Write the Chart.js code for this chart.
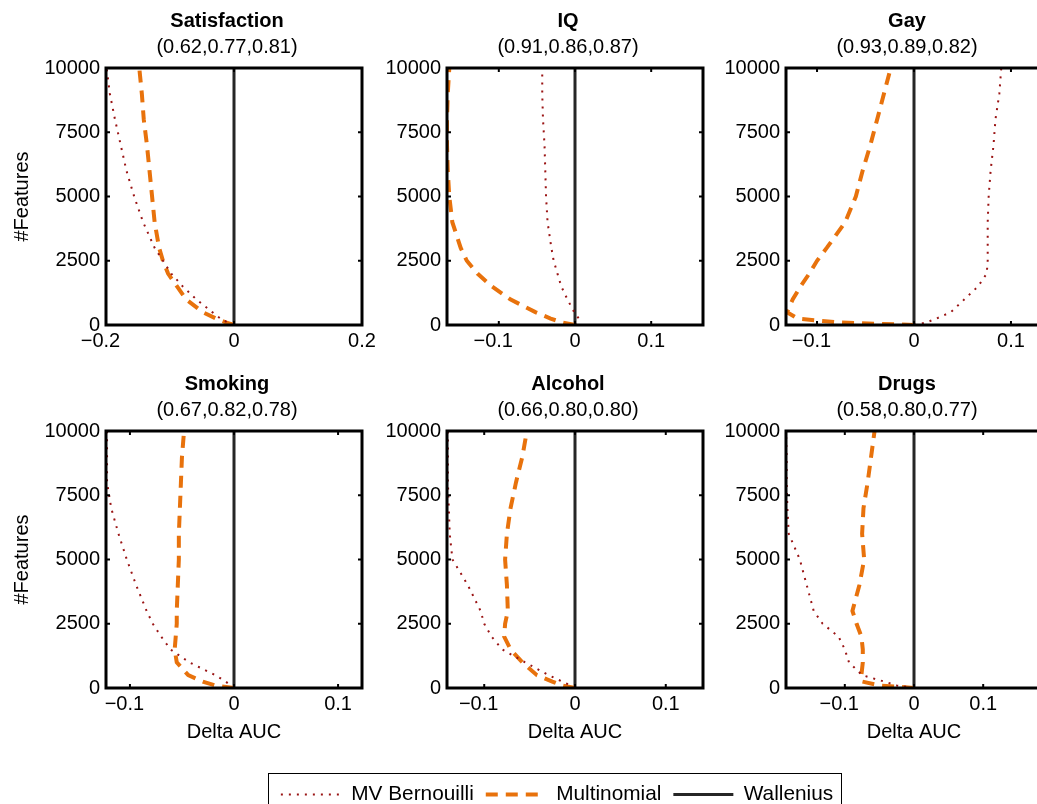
<!DOCTYPE html>
<html>
<head>
<meta charset="utf-8">
<script src="https://cdn.jsdelivr.net/npm/chart.js@4.4.1/dist/chart.umd.min.js"></script>
<style>
  html, body { margin:0; padding:0; background:#fff; width:1037px; height:804px; overflow:hidden; position:relative; }
  canvas.panel { position:absolute; }
  #legendBox { position:absolute; left:268px; top:773px; width:574px; height:40px; border:1px solid #000; box-sizing:border-box; background:#fff; }
  #legend { position:absolute; left:237px; top:772px; }
</style>
</head>
<body>
<div id="legendBox"></div>
<canvas id="legend" width="640" height="120"></canvas>
<script>
// ---------- data ----------
const features = [0, 100, 250, 500, 1000, 1500, 2000, 2500, 3000, 4000, 5000, 6000, 7000, 8000, 9000, 10000];
const yTicks = [0, 2500, 5000, 7500, 10000];
const xTicksWide = [-0.2, 0, 0.2];
const xTicksNarrow = [-0.1, 0, 0.1];

const titles = ['Satisfaction', 'IQ', 'Gay', 'Smoking', 'Alcohol', 'Drugs'];
const subtitles = ['(0.62,0.77,0.81)', '(0.91,0.86,0.87)', '(0.93,0.89,0.82)',
                   '(0.67,0.82,0.78)', '(0.66,0.80,0.80)', '(0.58,0.80,0.77)'];
const xLimits = [0.2, 0.168, 0.132, 0.123, 0.141, 0.185];

const satBernoulli   = [0, -0.010, -0.021, -0.034, -0.059, -0.080, -0.098, -0.111, -0.124, -0.142, -0.156, -0.168, -0.177, -0.186, -0.194, -0.199];
const satMultinomial = [0, -0.013, -0.028, -0.049, -0.075, -0.089, -0.103, -0.111, -0.117, -0.124, -0.128, -0.132, -0.136, -0.141, -0.144, -0.148];

const iqBernoulli    = [0, 0.003, 0.005, -0.001, -0.010, -0.018, -0.023, -0.028, -0.031, -0.036, -0.038, -0.039, -0.040, -0.042, -0.043, -0.043];
const iqMultinomial  = [0, -0.017, -0.032, -0.052, -0.085, -0.109, -0.128, -0.142, -0.150, -0.161, -0.165, -0.167, -0.168, -0.168, -0.167, -0.165];

const gayBernoulli   = [0, 0.013, 0.023, 0.038, 0.052, 0.066, 0.075, 0.076, 0.076, 0.076, 0.077, 0.079, 0.082, 0.084, 0.088, 0.090];
const gayMultinomial = [0, -0.078, -0.120, -0.131, -0.125, -0.117, -0.108, -0.100, -0.090, -0.071, -0.060, -0.053, -0.045, -0.038, -0.031, -0.024];

const smkBernoulli   = [0, -0.003, -0.008, -0.018, -0.043, -0.061, -0.070, -0.078, -0.084, -0.094, -0.103, -0.111, -0.118, -0.122, -0.122, -0.122];
const smkMultinomial = [0, -0.018, -0.030, -0.044, -0.055, -0.057, -0.056, -0.055, -0.055, -0.054, -0.053, -0.053, -0.052, -0.051, -0.050, -0.048];

const alcBernoulli   = [0, -0.005, -0.014, -0.029, -0.055, -0.080, -0.092, -0.100, -0.104, -0.118, -0.135, -0.138, -0.139, -0.140, -0.140, -0.140];
const alcMultinomial = [0, -0.014, -0.025, -0.042, -0.058, -0.071, -0.078, -0.077, -0.074, -0.075, -0.077, -0.075, -0.071, -0.065, -0.058, -0.053];

const drgBernoulli   = [0, -0.025, -0.043, -0.075, -0.094, -0.100, -0.109, -0.132, -0.145, -0.155, -0.165, -0.181, -0.183, -0.184, -0.184, -0.185];
const drgMultinomial = [0, -0.050, -0.075, -0.076, -0.074, -0.074, -0.076, -0.083, -0.089, -0.079, -0.072, -0.075, -0.073, -0.067, -0.062, -0.057];

const walleniusFeatures = [0, 10000];
const walleniusDelta = [0, 0];

const bernoulliSets = [satBernoulli, iqBernoulli, gayBernoulli, smkBernoulli, alcBernoulli, drgBernoulli];
const multinomialSets = [satMultinomial, iqMultinomial, gayMultinomial, smkMultinomial, alcMultinomial, drgMultinomial];
const xTickSets = [xTicksWide, xTicksNarrow, xTicksNarrow, xTicksNarrow, xTicksNarrow, xTicksNarrow];

// ---------- styles / layout ----------
const FONT = '"Liberation Sans", Arial, Helvetica, sans-serif';
Chart.defaults.font.family = FONT;
Chart.defaults.font.size = 20;
Chart.defaults.color = '#000';

const STYLE = {
  bern: { label: 'MV Bernouilli', borderColor: '#9a1414', borderWidth: 2, borderDash: [2, 6] },
  mult: { label: 'Multinomial', borderColor: '#e8720c', borderWidth: 4, borderDash: [12, 8] },
  wall: { label: 'Wallenius', borderColor: '#262626', borderWidth: 3, borderDash: [] }
};

const colLeft = [106, 447, 786];
const rowTop = [68, 431];
const PLOT_W = 256, LEFT_AREA = 106, RIGHT_AREA = 92, TOP_AREA = 68;

// negative labels: the minus sign hangs to the left of the number (trailing figure space balances it)
const fmtTick = v => v === 0 ? '0' : (v < 0 ? '\u2212' + Math.abs(v).toFixed(1) + '\u2007' : v.toFixed(1));
const toPoints = (xs, ys) => ys.map((y, k) => ({ x: xs[k], y: y }));

const framePlugin = {
  id: 'frame',
  afterDatasetsDraw(chart) {
    const { ctx, chartArea: a, scales } = chart;
    ctx.save();
    ctx.strokeStyle = '#000';
    ctx.setLineDash([]);
    ctx.lineWidth = 2;
    ctx.beginPath();
    scales.x.ticks.forEach(t => {
      const px = scales.x.getPixelForValue(t.value);
      ctx.moveTo(px, a.bottom); ctx.lineTo(px, a.bottom - 4);
      ctx.moveTo(px, a.top); ctx.lineTo(px, a.top + 4);
    });
    scales.y.ticks.forEach(t => {
      const py = scales.y.getPixelForValue(t.value);
      ctx.moveTo(a.left, py); ctx.lineTo(a.left + 4, py);
      ctx.moveTo(a.right, py); ctx.lineTo(a.right - 4, py);
    });
    ctx.stroke();
    ctx.lineWidth = 3;
    ctx.strokeRect(a.left, a.top, a.right - a.left, a.bottom - a.top);
    ctx.restore();
  }
};

function makePanel(i) {
  const col = i % 3, row = Math.floor(i / 3);
  const L = colLeft[col], T = rowTop[row];
  const xAxisH = row === 1 ? 56 : 40;
  const cv = document.createElement('canvas');
  cv.className = 'panel';
  cv.width = LEFT_AREA + PLOT_W + RIGHT_AREA;
  cv.height = TOP_AREA + 257 + xAxisH;
  cv.style.left = (L - LEFT_AREA) + 'px';
  cv.style.top = (T - TOP_AREA) + 'px';
  document.body.appendChild(cv);
  const lim = xLimits[i];
  const xt = xTickSets[i];

  new Chart(cv, {
    type: 'line',
    data: {
      datasets: [
        Object.assign({ data: toPoints(bernoulliSets[i], features) }, STYLE.bern),
        Object.assign({ data: toPoints(multinomialSets[i], features) }, STYLE.mult),
        Object.assign({ data: toPoints(walleniusDelta, walleniusFeatures) }, STYLE.wall)
      ].map(d => Object.assign(d, { pointRadius: 0, tension: 0, fill: false, yAxisID: 'y', xAxisID: 'x' }))
    },
    options: {
      responsive: false,
      animation: false,
      events: [],
      layout: { padding: 0 },
      scales: {
        x: {
          type: 'linear', position: 'bottom', min: -lim, max: lim,
          afterBuildTicks: s => { s.ticks = xt.map(v => ({ value: v })); },
          afterFit: s => { s.height = xAxisH; },
          grid: { display: false, drawTicks: false },
          border: { display: false },
          ticks: { padding: 4, color: '#000', maxRotation: 0, autoSkip: false, callback: v => fmtTick(v) },
          title: { display: row === 1, text: 'Delta AUC', color: '#000', padding: { top: 0, bottom: 0 } }
        },
        y: {
          type: 'linear', position: 'left', min: 0, max: 10000,
          afterBuildTicks: s => { s.ticks = yTicks.map(v => ({ value: v })); },
          afterFit: s => { s.width = LEFT_AREA; },
          grid: { display: false, drawTicks: false },
          border: { display: false },
          ticks: { padding: 6, color: '#000', callback: v => String(v) },
          title: { display: col === 0, text: '#Features', color: '#000', padding: { top: 10, bottom: 0 } }
        },
        pad: {
          type: 'linear', position: 'right', display: true,
          afterFit: s => { s.width = RIGHT_AREA; },
          grid: { display: false, drawTicks: false },
          border: { display: false },
          ticks: { display: false }
        }
      },
      plugins: {
        legend: { display: false },
        tooltip: { enabled: false },
        title: { display: true, text: titles[i], color: '#000', font: { size: 20, weight: 'bold' }, padding: { top: 9, bottom: 2 } },
        subtitle: { display: true, text: subtitles[i], color: '#000', font: { size: 20, weight: 'normal' }, padding: { top: 0, bottom: 9 } }
      }
    },
    plugins: [framePlugin]
  });
}

for (let i = 0; i < 6; i++) makePanel(i);

// ---------- legend ----------
new Chart(document.getElementById('legend'), {
  type: 'line',
  data: {
    datasets: [STYLE.bern, STYLE.mult, STYLE.wall].map(s => Object.assign({ data: [] }, s))
  },
  options: {
    responsive: false,
    animation: false,
    events: [],
    layout: { padding: 0 },
    scales: { x: { display: false }, y: { display: false } },
    plugins: {
      tooltip: { enabled: false },
      legend: {
        display: true, position: 'top',
        labels: {
          usePointStyle: true, pointStyle: 'line', pointStyleWidth: 60, padding: 12,
          color: '#000', font: { size: 20.8 },
          generateLabels: chart => chart.data.datasets.map((d, k) => ({
            text: d.label, strokeStyle: d.borderColor, fillStyle: d.borderColor,
            lineWidth: d.borderWidth, lineDash: d.borderDash, lineCap: 'butt',
            pointStyle: 'line', hidden: false, datasetIndex: k, fontColor: '#000'
          }))
        }
      }
    }
  }
});
</script>
</body>
</html>
